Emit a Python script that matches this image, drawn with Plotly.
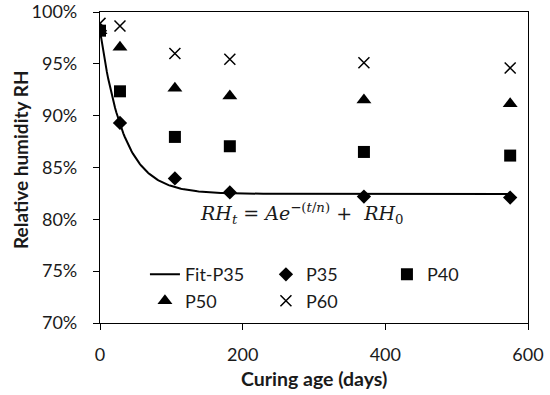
import numpy as np
import plotly.graph_objects as go

# Curing age (days)
days = [0, 28, 105, 182, 370, 575]

# Relative humidity (%) per mix
p35 = [98.2, 89.3, 83.95, 82.6, 82.2, 82.1]
p40 = [98.2, 92.35, 87.95, 87.05, 86.5, 86.15]
p50 = [98.2, 96.6, 92.65, 91.9, 91.5, 91.15]
p60 = [98.9, 98.65, 96.0, 95.45, 95.1, 94.6]

# Fitted parameters for P35: RH_t = A*exp(-t/n) + RH0
fit_A = 15.75
fit_n = 33.0
fit_RH0 = 82.45
fit_t = np.linspace(0, 575, 300)
fit_rh = fit_A * np.exp(-fit_t / fit_n) + fit_RH0

x_ticks = [0, 200, 400, 600]
y_ticks = [70, 75, 80, 85, 90, 95, 100]
y_tick_labels = [f"{v}%" for v in y_ticks]

FONT = "Lato, 'Open Sans', sans-serif"
TXT = "#1a1a1a"

fig = go.Figure()
fig.add_trace(go.Scatter(x=fit_t, y=fit_rh, mode="lines", name="Fit-P35",
                         line=dict(color="black", width=2)))
fig.add_trace(go.Scatter(x=days, y=p35, mode="markers", name="P35",
                         marker=dict(symbol="diamond", size=11, color="black")))
fig.add_trace(go.Scatter(x=days, y=p40, mode="markers", name="P40",
                         marker=dict(symbol="square", size=12, color="black")))
fig.add_trace(go.Scatter(x=days, y=p50, mode="markers", name="P50",
                         marker=dict(symbol="triangle-up", size=13, color="black")))
fig.add_trace(go.Scatter(x=days, y=p60, mode="markers", name="P60",
                         marker=dict(symbol="x-thin-open", size=11, color="black",
                                     line=dict(color="black", width=1.5))))

fig.add_annotation(
    x=283, y=80.6, xref="x", yref="y", showarrow=False,
    text="<i>RH</i><sub><i>t</i></sub> = <i>Ae</i><sup>−(<i>t</i>/<i>n</i>)</sup> +  <i>RH</i><sub>0</sub>",
    font=dict(family="'DejaVu Serif', 'Liberation Serif', serif", size=19, color=TXT),
)

# Axis titles placed as annotations
fig.add_annotation(
    x=-80 / 428, y=(323 - 160) / 311, xref="paper", yref="paper", showarrow=False,
    text="<b>Relative humidity RH</b>", textangle=-90,
    xanchor="center", yanchor="middle",
    font=dict(family=FONT, size=19, color=TXT),
)
fig.add_annotation(
    x=0.5, y=-(378 - 323) / 311, xref="paper", yref="paper", showarrow=False,
    text="<b>Curing age (days)</b>", xanchor="center", yanchor="middle",
    font=dict(family=FONT, size=19.5, color=TXT),
)

fig.update_layout(
    width=550, height=395,
    margin=dict(l=100, r=22, t=12, b=72),
    paper_bgcolor="white", plot_bgcolor="white",
    font=dict(family=FONT, size=18, color=TXT),
    showlegend=True,
    legend=dict(
        orientation="h", x=0.105, y=0.215, xanchor="left", yanchor="top",
        bgcolor="rgba(0,0,0,0)", font=dict(size=18, color=TXT),
        entrywidth=76, entrywidthmode="pixels", traceorder="normal",
    ),
    xaxis=dict(
        range=[0, 600], tickvals=x_ticks, ticktext=[str(v) for v in x_ticks],
        showgrid=False, zeroline=False, showline=True, linecolor="black",
        linewidth=1.3, mirror=True, ticks="outside", ticklen=6,
        tickcolor="black", tickwidth=1.3, automargin=False,
        ticklabelstandoff=9, tickfont=dict(size=18),
    ),
    yaxis=dict(
        range=[70, 100], tickvals=y_ticks, ticktext=y_tick_labels,
        showgrid=False, zeroline=False, showline=True, linecolor="black",
        linewidth=1.3, mirror=True, ticks="outside", ticklen=6,
        tickcolor="black", tickwidth=1.3, automargin=False,
        ticklabelstandoff=12, tickfont=dict(size=18),
    ),
)

fig.write_html("out.html", config={"displayModeBar": False},
               post_script="document.body.style.margin='0';")
